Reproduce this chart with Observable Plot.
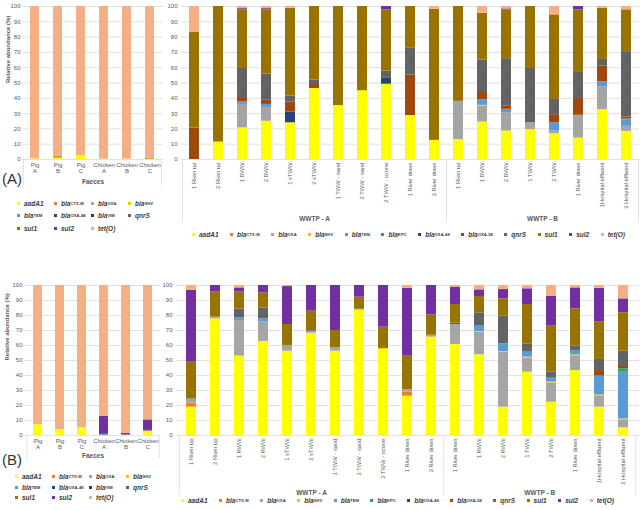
<!DOCTYPE html>
<html><head><meta charset="utf-8">
<script src="https://cdn.jsdelivr.net/npm/d3@7"></script>
<script src="https://cdn.jsdelivr.net/npm/@observablehq/plot@0.6"></script>
<style>
body{margin:0;background:#fff;font-family:"Liberation Sans",Arial,sans-serif;}
#root{position:relative;width:642px;height:510px;overflow:hidden;background:#fff}
.pnl{position:absolute}
.tag{position:absolute;font-size:15px;color:#333;line-height:1}
.leg{position:absolute;font-size:6.5px;font-weight:bold;font-style:italic;color:#3a3a3a}
.leg .it{display:flex;align-items:center;white-space:nowrap}
.leg .mk{width:3px;height:3px;margin-right:4px;flex:none}
.leg sub{font-size:4.2px;font-style:normal;vertical-align:-1.2px}
.row{display:flex;column-gap:11.5px}
.grid4{display:grid;grid-template-columns:repeat(4,37px)}
</style></head>
<body><div id="root"></div>
<script>
// gene order = stacking order (bottom to top)
const genes = ["aadA1","blaCTX-M","blaOXA","blaSHV","blaTEM","blaKPC","blaOXA-48","blaVIM","blaOXA-58","qnrS","sul1","sul2","tet(O)"];
const geneColors = ["#FFFF00","#ED7D31","#A5A5A5","#FFC000","#5B9BD5","#22A85A","#264478","#3A3A3A","#9E480E","#636363","#997300","#7030A0","#F4B084"];
const faecesLegendGenes = ["aadA1","blaCTX-M","blaOXA","blaSHV","blaTEM","blaOXA-48","blaVIM","qnrS","sul1","sul2","tet(O)"];
const wwtpLegendGenes = ["aadA1","blaCTX-M","blaOXA","blaSHV","blaTEM","blaKPC","blaOXA-48","blaOXA-58","qnrS","sul1","sul2","tet(O)"];

const faecesCats = ["Pig\nA","Pig\nB","Pig\nC","Chicken\nA","Chicken\nB","Chicken\nC"];
const groupNames = ["WWTP - A","WWTP - B"];
const sitesGroupA = ["1 River up","2 River up","1 RWW","2 RWW","1 sTWW","2 sTWW","1 TWW - sand","2 TWW - sand","2 TWW - ozone","1 River down","2 River down"];
const sitesGroupB_panelA = ["1 River up","1 RWW","2 RWW","1 TWW","2 TWW","1 River down","1Hospital effluent","2 Hospital effluent"];
const sitesGroupB_panelB = ["1 River down","1 RWW","2 RWW","1 TWW","2 TWW","1 River down","1Hospital effluent","2 Hospital effluent"];

// values per bar, in gene order:
// aadA1, CTX-M, OXA, SHV, TEM, KPC, OXA-48, VIM, OXA-58, qnrS, sul1, sul2, tet(O)
const faecesA = [
  [0.4,0,0,0,0,0,0,0,0,0,0,0,99.6],
  [1.0,0,0,0,0,0,0,0,0,0,0.8,0,98.2],
  [2.6,0,0,0,0,0,0,0,0,0,0,0,97.4],
  [0.2,0,0,0,0,0,0,0,0,0,0,0,99.8],
  [0.3,0,0,0,0,0,0,0,0,0,0,0,99.7],
  [0.3,0,0,0,0,0,0,0,0,0,0.6,0,99.1]
];
const faecesB = [
  [7.1,0,0,0,0,0,0,0,0,0,0,0,92.9],
  [4.0,0,0,0,0,0,0,0,0,0,0,0,96.0],
  [5.1,0,0,0,0,0,0,0,0,0,0,0,94.9],
  [0,0,0,0,0.8,0,0,0,0,0,0,12.1,87.1],
  [0,0,0,0,0.5,0,0,0,0,0,0,0.9,98.6],
  [2.9,0,0,0,0,0,0,0,0,0.5,0,7.0,89.6]
];
const wwtpA = [
  [0,0,0,0,0,0,0,0,20.6,0,62.4,0,17.0],
  [11.4,0,0,0,0,0,0,0,0,0,88.6,0,0],
  [20.6,0,15.4,0,1.6,0,0,0,2.9,19.0,38.3,0.8,1.4],
  [25.0,0,9.0,0,2.0,0,0,0,2.7,17.1,42.0,0.8,1.4],
  [24.0,0,0,0,0,0,7.0,0,6.6,3.8,57.4,0,1.2],
  [46.4,0,0,0,0,0,0,0,2.6,2.9,48.1,0,0],
  [35.2,0,0,0,0,0,0,0,0,0,64.8,0,0],
  [44.9,0,0,0,0,0,0,0,0,0,55.1,0,0],
  [49.2,0,0,0,0,0,3.8,0,0,4.8,40.0,2.2,0],
  [28.7,0,0,0,0,0,0,0,26.4,17.9,27.0,0,0],
  [12.5,0,0,0,0,0,0,0,0,0,85.7,0,1.8],
  [13.0,0,25.0,0,0,0,0,0,0,0,62.0,0,0],
  [24.5,0,10.5,0.4,3.6,0,0,0,4.8,21.2,30.6,0,4.4],
  [18.6,0,12.0,0,2.2,0,0,0,2.0,31.1,31.9,0.6,1.6],
  [19.5,0,4.5,0,0,0,0,0,0,35.5,40.5,0,0],
  [16.8,0,1.8,0,5.4,0,0,0,5.3,9.9,55.3,0,5.5],
  [14.0,0,14.9,0,0,0,0,0,10.9,17.1,40.9,2.2,0],
  [32.6,0,14.9,0,3.3,0,0,0,10.2,4.4,33.5,0,1.1],
  [18.4,0,3.3,0,4.3,0.5,0,0,1.3,42.7,27.3,0,2.2]
];
const wwtpB = [
  [18.9,2.7,2.4,0,0.5,0,0,0,0,0,24.8,47.4,3.3],
  [77.8,0,1.1,0,0,0,0,0,0,0,16.7,4.4,0],
  [52.9,0,23.8,0,1.7,0,0,0,0,6.0,11.2,2.8,1.6],
  [62.7,0,12.9,0,2.2,0,0,0,0,7.1,10.2,4.9,0],
  [56.2,0,3.8,0,0,0,0,0,0,0,14.0,25.3,0.7],
  [68.2,0,1.3,0,0,0,0,0,0,0.5,12.9,17.1,0],
  [56.2,0,2.2,0,0,0,0,0,0,0,11.6,30.0,0],
  [83.8,0,0,0,0,0,0,0,0,0.6,7.8,7.8,0],
  [57.8,0,0,0,0,0,0,0,0,0,14.4,27.8,0],
  [26.2,2.7,1.5,0,0,0,0,0,0,0,22.9,44.9,1.8],
  [65.6,0,1.2,0,0,0,0,0,0,0,13.6,19.6,0],
  [60.7,0,13.3,0,0,0,0,0,0.9,0,12.4,11.6,1.1],
  [53.8,0,15.0,0.5,3.6,0,0,0,0,8.9,10.9,4.4,2.9],
  [18.9,0,36.6,0.5,5.1,0,0,0,0,18.5,11.5,6.2,2.7],
  [42.2,0,9.4,0.6,3.4,0,0,0,0,5.5,26.2,10.5,2.2],
  [22.2,0,12.8,0.6,2.6,0,0,0,0,4.0,30.7,20.0,7.1],
  [43.3,0,9.9,0.6,2.9,0,0,0,0,2.9,24.8,14.0,1.6],
  [18.9,0,7.6,0.6,12.5,0,0,0,3.7,7.4,24.9,22.6,1.8],
  [5.1,0,5.4,0.6,31.1,2.2,0,0,1.6,10.2,25.6,9.3,8.9]
];

const root = document.getElementById("root");
const yTicks = d3.range(0, 11).map(i => i / 10);
const FONT = "'Liberation Sans', Arial, sans-serif";

function tidy(keys, data) {
  const rows = [];
  data.forEach((bar, i) => bar.forEach((v, g) => { if (v > 0) rows.push({cat: keys[i], gene: genes[g], value: v}); }));
  return rows;
}

function panel(o) {
  const n = o.keys.length;
  const fw = o.width - o.marginLeft - o.marginRight;
  const fh = o.height - o.marginTop - o.marginBottom;
  const step = fw / (n - o.pi + 2 * o.po);
  const marks = [
    Plot.gridY({ticks: yTicks, stroke: "#d9d9d9", strokeOpacity: 1, strokeWidth: 0.8}),
    Plot.axisY({ticks: yTicks, tickFormat: d => Math.round(d * 100), tickSize: 0, tickPadding: o.tickPad, fontSize: 6, label: null}),
    Plot.barY(tidy(o.keys, o.data), Plot.stackY({x: "cat", y: "value", fill: "gene", offset: "normalize"})),
    Plot.axisX({tickSize: 0, tickPadding: 3, tickFormat: o.fmt, fontSize: o.xFont, tickRotate: o.rotate, lineHeight: 1.05, label: null})
  ];
  // separators of the category box, at band edges (half a step from the band centre)
  for (const s of o.sepKeys) {
    marks.push(Plot.ruleX([s.key], {x: d => d, dx: s.side * step / 2, y1: 0, y2: -o.sepLen / fh, stroke: "#d9d9d9", strokeWidth: 0.8}));
  }
  for (const t of o.texts || []) {
    marks.push(Plot.text([t.text], {x: t.key ? () => t.key : undefined, y: t.key ? () => 0 : undefined,
      frameAnchor: t.anchor, dx: (t.half ? step / 2 : 0) + (t.dx || 0), dy: t.dy || 0, rotate: t.rotate || 0,
      fontSize: t.size || 6.5, fontWeight: "bold", fill: "#595959"}));
  }
  const svg = Plot.plot({
    width: o.width, height: o.height,
    marginLeft: o.marginLeft, marginRight: o.marginRight, marginTop: o.marginTop, marginBottom: o.marginBottom,
    x: {domain: o.keys, paddingInner: o.pi, paddingOuter: o.po, label: null},
    y: {domain: [0, 1], label: null},
    color: {domain: genes, range: geneColors},
    style: {fontFamily: FONT, fontSize: "6px", color: "#595959", background: "transparent", overflow: "visible"},
    marks
  });
  const div = document.createElement("div");
  div.className = "pnl";
  div.style.left = o.left + "px";
  div.style.top = o.top + "px";
  div.appendChild(svg);
  root.appendChild(div);
}

function geneLabel(g) {
  if (g.startsWith("bla")) return "<i>bla</i><sub>" + g.slice(3) + "</sub>";
  return "<i>" + g + "</i>";
}
function legend(list, cls, left, top, rowH) {
  const d = document.createElement("div");
  d.className = "leg " + cls;
  d.style.left = left + "px";
  d.style.top = top + "px";
  d.innerHTML = list.map(g => `<div class="it" style="height:${rowH}px"><span class="mk" style="background:${geneColors[genes.indexOf(g)]}"></span>${geneLabel(g)}</div>`).join("");
  root.appendChild(d);
}
function tag(text, left, top) {
  const d = document.createElement("div");
  d.className = "tag"; d.textContent = text;
  d.style.left = left + "px"; d.style.top = top + "px";
  root.appendChild(d);
}

const fKeys = faecesCats;
const keysA = sitesGroupA.map((s, i) => "A" + i + "|" + s).concat(sitesGroupB_panelA.map((s, i) => "B" + i + "|" + s));
const keysB = sitesGroupA.map((s, i) => "A" + i + "|" + s).concat(sitesGroupB_panelB.map((s, i) => "B" + i + "|" + s));
const siteFmt = d => d.split("|")[1];

// Panel (A) faeces
panel({left: 0, top: 0, width: 170, height: 190, marginLeft: 22, marginRight: 7, marginTop: 6, marginBottom: 31,
  keys: fKeys, data: faecesA, pi: 0.6, po: 0.34, tickPad: 2, xFont: 6, rotate: 0, fmt: d => d,
  sepKeys: [{key: fKeys[0], side: -1}, {key: fKeys[5], side: 1}], sepLen: 26,
  texts: [{text: "Faeces", anchor: "bottom", dy: 24, size: 6.5},
          {text: "Relative abundance (%)", anchor: "left", dx: -14, rotate: -90, size: 6}]});
// Panel (A) WWTP
panel({left: 165, top: 0, width: 477, height: 240, marginLeft: 16, marginRight: 3, marginTop: 6, marginBottom: 81,
  keys: keysA, data: wwtpA, pi: 0.58, po: 0.31, tickPad: 4, xFont: 5.8, rotate: -90, fmt: siteFmt,
  sepKeys: [{key: keysA[0], side: -1}, {key: keysA[10], side: 1}, {key: keysA[18], side: 1}], sepLen: 63,
  texts: [{text: groupNames[0], key: keysA[5], dy: 59}, {text: groupNames[1], key: keysA[14], half: true, dy: 59}]});
// Panel (B) faeces
panel({left: 0, top: 279, width: 170, height: 186, marginLeft: 25, marginRight: 10, marginTop: 6, marginBottom: 30,
  keys: fKeys, data: faecesB, pi: 0.6, po: 0.31, tickPad: 3, xFont: 6, rotate: 0, fmt: d => d,
  sepKeys: [{key: fKeys[0], side: -1}, {key: fKeys[5], side: 1}], sepLen: 24,
  texts: [{text: "Faeces", anchor: "bottom", dy: 22, size: 6.5},
          {text: "Relative abundance (%)", anchor: "left", dx: -18, rotate: -90, size: 6}]});
// Panel (B) WWTP
panel({left: 160, top: 279, width: 482, height: 216, marginLeft: 16, marginRight: 3, marginTop: 6, marginBottom: 60,
  keys: keysB, data: wwtpB, pi: 0.58, po: 0.28, tickPad: 4, xFont: 5.8, rotate: -90, fmt: siteFmt,
  sepKeys: [{key: keysB[0], side: -1}, {key: keysB[10], side: 1}, {key: keysB[18], side: 1}], sepLen: 60,
  texts: [{text: groupNames[0], key: keysB[5], dy: 57}, {text: groupNames[1], key: keysB[14], half: true, dy: 57}]});

tag("(A)", 2, 171);
tag("(B)", 2, 452);
legend(faecesLegendGenes, "grid4", 17, 197, 12.5);
legend(faecesLegendGenes, "grid4", 15, 471, 10.8);
legend(wwtpLegendGenes, "row", 192, 229, 10);
legend(wwtpLegendGenes, "row", 181, 495, 10);
</script></body></html>
